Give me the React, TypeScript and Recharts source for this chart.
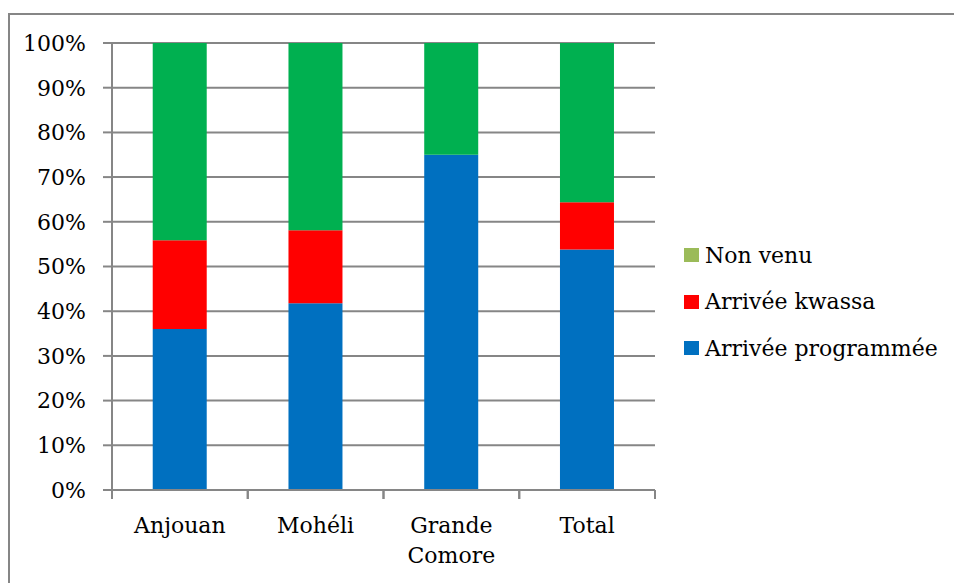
import React from 'react';
import { BarChart, Bar, XAxis, YAxis, CartesianGrid, Legend, Text } from 'recharts';

const categories = ['Anjouan', 'Mohéli', 'Grande Comore', 'Total'];
const programmee = [36.0, 41.8, 75.0, 53.8];
const kwassa = [19.9, 16.3, 0, 10.6];
const nonVenu = [44.1, 41.9, 25.0, 35.6];
const yTicks = [0, 10, 20, 30, 40, 50, 60, 70, 80, 90, 100];

const series = [
  { key: 'programmee', name: 'Arrivée programmée', fill: '#0070C0', legend: '#0070C0' },
  { key: 'kwassa', name: 'Arrivée kwassa', fill: '#FF0000', legend: '#FF0000' },
  { key: 'nonVenu', name: 'Non venu', fill: '#00B050', legend: '#9BBB59' },
];

const data = categories.map((name, i) => ({
  name,
  programmee: programmee[i],
  kwassa: kwassa[i],
  nonVenu: nonVenu[i],
}));

const FONT = '"DejaVu Serif", serif';
const GRAY = '#868686';
const X_TICK_SIZE = 6;
const X_TICK_MARGIN = 21;
const BOUNDARY_TICK = 9;

const CatTick = (props: any) => {
  const { x, y, payload, width, visibleTicksCount } = props;
  const half =
    payload && payload.offset ? payload.offset : width && visibleTicksCount ? width / visibleTicksCount / 2 : 0;
  const y0 = y - X_TICK_SIZE - X_TICK_MARGIN;
  return (
    <g>
      <line x1={x - half} x2={x - half} y1={y0} y2={y0 + BOUNDARY_TICK} stroke={GRAY} strokeWidth={2} />
      <line x1={x + half} x2={x + half} y1={y0} y2={y0 + BOUNDARY_TICK} stroke={GRAY} strokeWidth={2} />
      <Text
        x={x}
        y={y}
        width={115}
        textAnchor="middle"
        verticalAnchor="start"
        lineHeight="30px"
        style={{ fontFamily: FONT, fontSize: 22 }}
        fill="#000"
      >
        {payload.value}
      </Text>
    </g>
  );
};

const LegendContent = () => (
  <div style={{ fontFamily: FONT, fontSize: 22, color: '#000' }}>
    {[...series].reverse().map((s) => (
      <div key={s.key} style={{ display: 'flex', alignItems: 'center', height: 46.5, whiteSpace: 'nowrap' }}>
        <span style={{ display: 'inline-block', width: 15, height: 14, background: s.legend, marginRight: 6 }} />
        <span>{s.name}</span>
      </div>
    ))}
  </div>
);

export default function App() {
  return (
    <div style={{ position: 'absolute', left: 0, top: 0, width: 954, height: 583, overflow: 'hidden', background: '#fff' }}>
      <style>{`body{margin:0;overflow:hidden}`}</style>
      <div
        style={{
          position: 'absolute',
          left: 8,
          top: 13,
          width: 1000,
          height: 700,
          border: `2px solid ${GRAY}`,
          boxSizing: 'border-box',
        }}
      />
      <div style={{ position: 'absolute', left: 0, top: 0 }}>
        <BarChart
          width={954}
          height={583}
          data={data}
          margin={{ top: 43, right: 299, left: 12, bottom: 0 }}
          barCategoryGap="30%"
        >
          <CartesianGrid vertical={false} stroke={GRAY} strokeWidth={2} />
          <XAxis
            dataKey="name"
            interval={0}
            tickLine={false}
            axisLine={{ stroke: GRAY, strokeWidth: 2 }}
            tickSize={X_TICK_SIZE}
            tickMargin={X_TICK_MARGIN}
            height={93}
            tick={<CatTick />}
          />
          <YAxis
            type="number"
            domain={[0, 100]}
            ticks={yTicks}
            interval={0}
            width={100}
            tickSize={9}
            tickMargin={17}
            tickFormatter={(v: number) => `${v}%`}
            tick={{ fontFamily: FONT, fontSize: 22, fill: '#000' }}
            axisLine={{ stroke: GRAY, strokeWidth: 2 }}
            tickLine={{ stroke: GRAY, strokeWidth: 2 }}
          />
          <Legend
            layout="vertical"
            align="center"
            verticalAlign="middle"
            wrapperStyle={{ left: 684, top: 232, width: 270 }}
            content={<LegendContent />}
          />
          {series.map((s) => (
            <Bar
              key={s.key}
              dataKey={s.key}
              name={s.name}
              stackId="a"
              fill={s.fill}
              isAnimationActive={false}
            />
          ))}
        </BarChart>
      </div>
    </div>
  );
}
